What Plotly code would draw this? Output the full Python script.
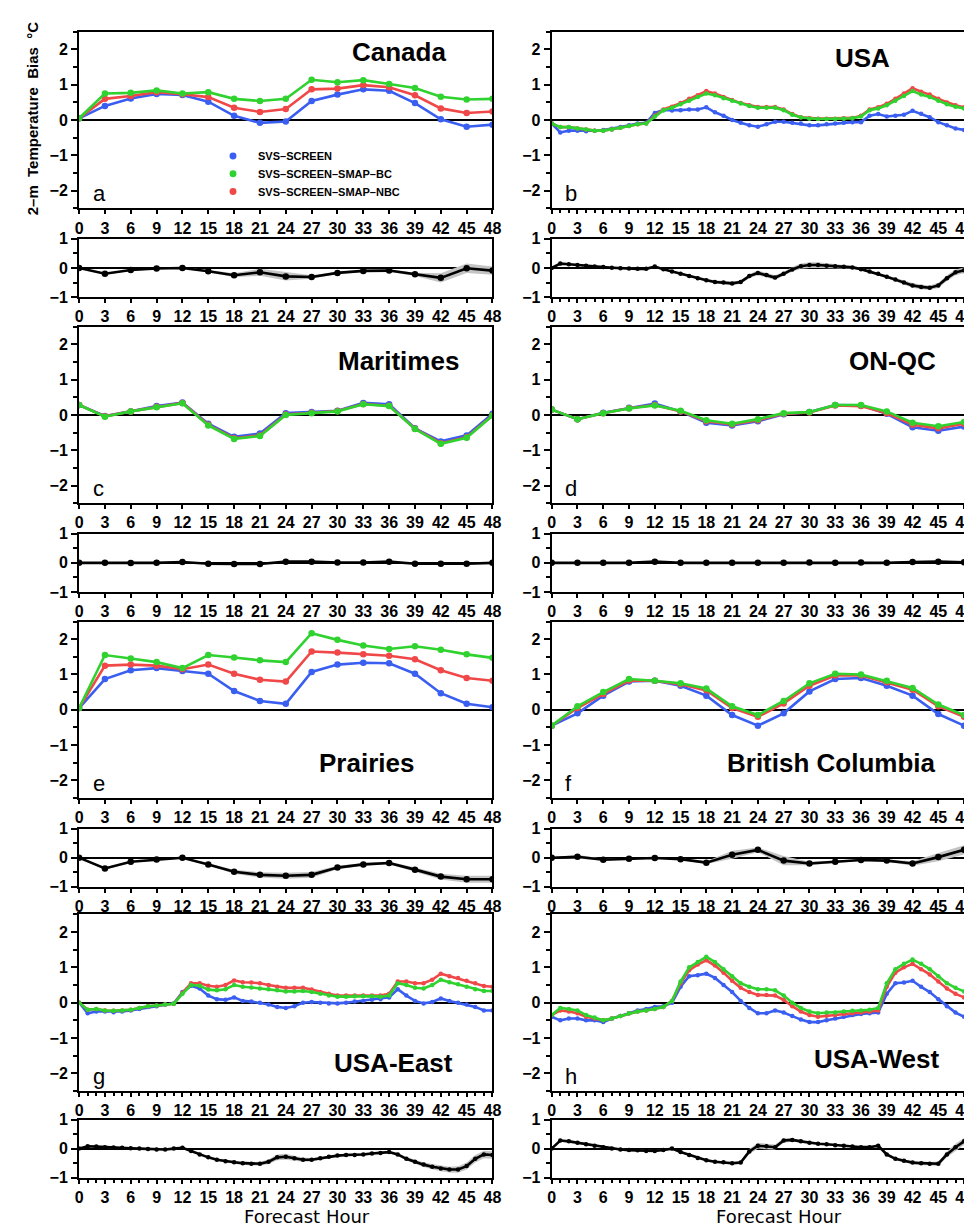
import plotly.graph_objects as go

# ---------------- data ----------------
HOURS_3 = [0, 3, 6, 9, 12, 15, 18, 21, 24, 27, 30, 33, 36, 39, 42, 45, 48]
HOURS_1 = list(range(0, 49))
X_TICKS = [0, 3, 6, 9, 12, 15, 18, 21, 24, 27, 30, 33, 36, 39, 42, 45, 48]
Y_TICKS_MAIN = [-2, -1, 0, 1, 2]
Y_TICKS_DIFF = [-1, 0, 1]
SERIES_NAMES = ["SVS–SCREEN", "SVS–SCREEN–SMAP–BC", "SVS–SCREEN–SMAP–NBC"]
REGIONS = ["Canada", "USA", "Maritimes", "ON-QC", "Prairies", "British Columbia", "USA-East", "USA-West"]
LETTERS = ["a", "b", "c", "d", "e", "f", "g", "h"]

canada_screen = [0.05, 0.40, 0.61, 0.74, 0.71, 0.52, 0.12, -0.08, -0.04, 0.54, 0.72, 0.87, 0.83, 0.48, 0.02, -0.19, -0.13]
canada_bc = [0.05, 0.75, 0.77, 0.84, 0.75, 0.79, 0.60, 0.54, 0.60, 1.14, 1.07, 1.13, 1.02, 0.91, 0.66, 0.58, 0.60]
canada_nbc = [0.05, 0.60, 0.68, 0.79, 0.73, 0.65, 0.35, 0.23, 0.31, 0.87, 0.89, 0.99, 0.93, 0.70, 0.33, 0.20, 0.24]
canada_diff = [0.0, -0.20, -0.07, -0.02, 0.0, -0.11, -0.25, -0.15, -0.29, -0.31, -0.17, -0.10, -0.09, -0.22, -0.34, -0.01, -0.09]
canada_ci = [0.01, 0.03, 0.03, 0.02, 0.02, 0.04, 0.07, 0.12, 0.14, 0.06, 0.04, 0.04, 0.04, 0.06, 0.16, 0.16, 0.14]

usa_screen = [-0.10, -0.35, -0.30, -0.30, -0.32, -0.30, -0.28, -0.25, -0.20, -0.15, -0.10, -0.08, 0.20, 0.28, 0.27, 0.28, 0.30, 0.30, 0.36, 0.22, 0.12, 0.00, -0.08, -0.15, -0.19, -0.12, -0.05, -0.05, -0.08, -0.10, -0.15, -0.15, -0.12, -0.10, -0.08, -0.06, -0.06, 0.12, 0.17, 0.10, 0.12, 0.15, 0.26, 0.18, 0.08, -0.06, -0.15, -0.24, -0.28]
usa_bc = [-0.10, -0.20, -0.20, -0.24, -0.27, -0.30, -0.30, -0.27, -0.22, -0.17, -0.12, -0.10, 0.10, 0.28, 0.35, 0.45, 0.55, 0.65, 0.75, 0.70, 0.62, 0.55, 0.47, 0.40, 0.35, 0.35, 0.35, 0.28, 0.15, 0.07, 0.04, 0.03, 0.03, 0.03, 0.04, 0.05, 0.10, 0.28, 0.33, 0.42, 0.55, 0.68, 0.82, 0.72, 0.65, 0.55, 0.45, 0.38, 0.33]
usa_nbc = [-0.10, -0.20, -0.20, -0.24, -0.27, -0.30, -0.30, -0.27, -0.22, -0.17, -0.12, -0.10, 0.12, 0.30, 0.38, 0.48, 0.60, 0.70, 0.82, 0.75, 0.65, 0.57, 0.48, 0.42, 0.37, 0.37, 0.37, 0.30, 0.17, 0.08, 0.05, 0.04, 0.04, 0.04, 0.05, 0.06, 0.12, 0.30, 0.36, 0.46, 0.60, 0.75, 0.90, 0.80, 0.72, 0.60, 0.50, 0.42, 0.36]
usa_diff = [0.00, 0.15, 0.13, 0.10, 0.08, 0.05, 0.03, 0.01, -0.01, -0.02, -0.03, -0.03, 0.05, -0.04, -0.12, -0.20, -0.28, -0.35, -0.42, -0.48, -0.50, -0.53, -0.48, -0.28, -0.17, -0.24, -0.33, -0.20, -0.05, 0.06, 0.10, 0.10, 0.08, 0.06, 0.04, 0.02, -0.04, -0.12, -0.20, -0.30, -0.40, -0.50, -0.60, -0.65, -0.68, -0.60, -0.35, -0.15, -0.08]
usa_ci = [0.02, 0.04, 0.04, 0.03, 0.03, 0.03, 0.03, 0.03, 0.03, 0.03, 0.03, 0.03, 0.03, 0.03, 0.03, 0.04, 0.04, 0.05, 0.06, 0.06, 0.06, 0.06, 0.06, 0.07, 0.08, 0.08, 0.08, 0.07, 0.08, 0.09, 0.10, 0.10, 0.09, 0.08, 0.06, 0.05, 0.04, 0.04, 0.05, 0.05, 0.06, 0.07, 0.08, 0.08, 0.08, 0.09, 0.10, 0.10, 0.10]

mar_screen = [0.28, -0.03, 0.10, 0.25, 0.35, -0.25, -0.62, -0.53, 0.05, 0.08, 0.12, 0.34, 0.30, -0.38, -0.75, -0.58, 0.03]
mar_bc = [0.28, -0.05, 0.10, 0.22, 0.33, -0.30, -0.68, -0.60, 0.00, 0.05, 0.10, 0.30, 0.25, -0.40, -0.82, -0.65, -0.02]
mar_nbc = [0.28, -0.04, 0.10, 0.23, 0.34, -0.28, -0.66, -0.58, 0.01, 0.06, 0.11, 0.31, 0.26, -0.39, -0.80, -0.63, -0.01]
mar_diff = [0.0, 0.0, -0.01, 0.0, 0.03, -0.03, -0.04, -0.04, 0.04, 0.04, 0.01, 0.01, 0.04, -0.03, -0.03, -0.03, 0.0]
mar_ci = [0.01, 0.02, 0.02, 0.02, 0.02, 0.02, 0.02, 0.02, 0.02, 0.02, 0.02, 0.02, 0.02, 0.02, 0.02, 0.02, 0.02]

onqc_screen = [0.15, -0.12, 0.06, 0.20, 0.32, 0.10, -0.22, -0.30, -0.18, 0.02, 0.08, 0.28, 0.27, 0.03, -0.35, -0.45, -0.33]
onqc_bc = [0.15, -0.12, 0.05, 0.18, 0.27, 0.12, -0.15, -0.25, -0.12, 0.05, 0.08, 0.28, 0.28, 0.10, -0.22, -0.32, -0.20]
onqc_nbc = [0.15, -0.12, 0.05, 0.19, 0.28, 0.10, -0.18, -0.27, -0.15, 0.03, 0.07, 0.27, 0.25, 0.05, -0.28, -0.38, -0.25]
onqc_diff = [0.0, 0.0, 0.0, 0.0, 0.04, 0.0, 0.0, 0.0, 0.0, 0.0, 0.01, 0.0, 0.01, 0.0, 0.03, 0.04, 0.02]
onqc_ci = [0.01, 0.02, 0.02, 0.02, 0.02, 0.02, 0.02, 0.02, 0.02, 0.02, 0.02, 0.02, 0.02, 0.02, 0.03, 0.03, 0.03]

pra_screen = [0.05, 0.87, 1.12, 1.18, 1.10, 1.02, 0.53, 0.25, 0.17, 1.07, 1.28, 1.33, 1.32, 1.02, 0.47, 0.17, 0.07]
pra_bc = [0.05, 1.55, 1.45, 1.35, 1.18, 1.55, 1.48, 1.40, 1.35, 2.17, 1.98, 1.82, 1.72, 1.80, 1.70, 1.57, 1.47]
pra_nbc = [0.05, 1.25, 1.28, 1.25, 1.15, 1.28, 1.02, 0.85, 0.80, 1.65, 1.62, 1.57, 1.53, 1.43, 1.12, 0.90, 0.82]
pra_diff = [0.0, -0.37, -0.14, -0.06, 0.0, -0.23, -0.48, -0.59, -0.62, -0.59, -0.34, -0.23, -0.18, -0.41, -0.65, -0.74, -0.74]
pra_ci = [0.01, 0.04, 0.03, 0.02, 0.01, 0.04, 0.07, 0.09, 0.10, 0.10, 0.06, 0.05, 0.05, 0.07, 0.10, 0.12, 0.12]

bc_screen = [-0.45, -0.10, 0.40, 0.80, 0.82, 0.68, 0.40, -0.15, -0.45, -0.10, 0.52, 0.87, 0.90, 0.68, 0.40, -0.12, -0.45]
bc_bc = [-0.45, 0.10, 0.50, 0.87, 0.82, 0.75, 0.60, 0.10, -0.15, 0.25, 0.75, 1.02, 1.00, 0.82, 0.62, 0.15, -0.15]
bc_nbc = [-0.45, 0.05, 0.45, 0.83, 0.82, 0.72, 0.55, 0.05, -0.20, 0.18, 0.68, 0.97, 0.97, 0.78, 0.57, 0.10, -0.20]
bc_diff = [0.0, 0.03, -0.07, -0.04, -0.01, -0.05, -0.17, 0.10, 0.27, -0.10, -0.20, -0.14, -0.08, -0.10, -0.20, 0.02, 0.27]
bc_ci = [0.01, 0.07, 0.03, 0.02, 0.01, 0.03, 0.05, 0.14, 0.08, 0.16, 0.06, 0.04, 0.03, 0.04, 0.08, 0.14, 0.16]

use_screen = [0.00, -0.30, -0.25, -0.25, -0.27, -0.25, -0.22, -0.18, -0.12, -0.10, -0.05, -0.02, 0.30, 0.48, 0.40, 0.20, 0.10, 0.08, 0.15, 0.05, 0.03, 0.00, -0.05, -0.12, -0.15, -0.10, 0.00, 0.02, 0.00, -0.02, -0.02, 0.00, 0.03, 0.05, 0.08, 0.10, 0.15, 0.38, 0.20, 0.05, -0.02, 0.02, 0.12, 0.05, 0.00, -0.05, -0.12, -0.22, -0.22]
use_bc = [0.00, -0.20, -0.18, -0.22, -0.23, -0.22, -0.20, -0.15, -0.10, -0.08, -0.05, -0.03, 0.25, 0.50, 0.48, 0.37, 0.35, 0.38, 0.50, 0.45, 0.43, 0.40, 0.38, 0.35, 0.32, 0.32, 0.33, 0.30, 0.25, 0.20, 0.17, 0.17, 0.18, 0.18, 0.18, 0.17, 0.20, 0.55, 0.50, 0.42, 0.40, 0.50, 0.65, 0.58, 0.52, 0.45, 0.38, 0.33, 0.33]
use_nbc = [0.00, -0.20, -0.18, -0.22, -0.23, -0.22, -0.20, -0.15, -0.10, -0.08, -0.05, -0.03, 0.28, 0.55, 0.55, 0.48, 0.45, 0.50, 0.63, 0.58, 0.57, 0.55, 0.50, 0.45, 0.42, 0.42, 0.42, 0.37, 0.30, 0.25, 0.20, 0.20, 0.20, 0.20, 0.20, 0.20, 0.25, 0.60, 0.60, 0.55, 0.55, 0.65, 0.82, 0.75, 0.70, 0.62, 0.55, 0.47, 0.45]
use_diff = [0.00, 0.08, 0.07, 0.05, 0.04, 0.03, 0.01, 0.00, -0.01, -0.03, -0.03, 0.00, 0.03, -0.08, -0.20, -0.30, -0.38, -0.43, -0.47, -0.50, -0.52, -0.52, -0.45, -0.30, -0.28, -0.33, -0.38, -0.38, -0.33, -0.28, -0.24, -0.22, -0.22, -0.20, -0.17, -0.15, -0.12, -0.20, -0.35, -0.45, -0.55, -0.62, -0.68, -0.72, -0.72, -0.60, -0.35, -0.20, -0.22]
use_ci = [0.02, 0.03, 0.03, 0.03, 0.03, 0.03, 0.03, 0.03, 0.03, 0.03, 0.03, 0.03, 0.03, 0.03, 0.03, 0.04, 0.04, 0.05, 0.05, 0.06, 0.06, 0.07, 0.08, 0.10, 0.10, 0.09, 0.07, 0.06, 0.05, 0.05, 0.05, 0.05, 0.05, 0.05, 0.05, 0.05, 0.05, 0.05, 0.06, 0.07, 0.08, 0.09, 0.10, 0.10, 0.11, 0.12, 0.13, 0.13, 0.13]

usw_screen = [-0.40, -0.50, -0.45, -0.45, -0.50, -0.50, -0.55, -0.45, -0.38, -0.30, -0.22, -0.18, -0.12, -0.10, 0.00, 0.45, 0.75, 0.78, 0.82, 0.70, 0.50, 0.30, 0.05, -0.15, -0.30, -0.30, -0.22, -0.28, -0.38, -0.48, -0.55, -0.55, -0.50, -0.45, -0.40, -0.35, -0.32, -0.30, -0.28, 0.25, 0.55, 0.57, 0.62, 0.45, 0.30, 0.10, -0.10, -0.28, -0.40]
usw_bc = [-0.35, -0.15, -0.18, -0.22, -0.35, -0.42, -0.50, -0.45, -0.38, -0.30, -0.25, -0.22, -0.18, -0.12, 0.05, 0.60, 1.00, 1.15, 1.30, 1.15, 0.95, 0.75, 0.55, 0.45, 0.38, 0.38, 0.35, 0.20, 0.00, -0.15, -0.25, -0.30, -0.28, -0.28, -0.25, -0.23, -0.22, -0.20, -0.15, 0.55, 0.95, 1.10, 1.22, 1.10, 0.95, 0.75, 0.55, 0.42, 0.32]
usw_nbc = [-0.35, -0.22, -0.25, -0.30, -0.40, -0.45, -0.50, -0.45, -0.38, -0.30, -0.25, -0.22, -0.18, -0.12, 0.05, 0.55, 0.92, 1.08, 1.20, 1.05, 0.85, 0.62, 0.42, 0.30, 0.22, 0.22, 0.20, 0.08, -0.10, -0.25, -0.35, -0.40, -0.37, -0.35, -0.32, -0.30, -0.28, -0.26, -0.22, 0.45, 0.85, 1.00, 1.10, 0.95, 0.80, 0.60, 0.40, 0.25, 0.15]
usw_diff = [0.00, 0.28, 0.25, 0.20, 0.15, 0.10, 0.05, 0.00, -0.03, -0.05, -0.06, -0.08, -0.08, -0.05, 0.00, -0.12, -0.22, -0.32, -0.40, -0.45, -0.47, -0.50, -0.48, -0.10, 0.10, 0.08, 0.05, 0.28, 0.30, 0.25, 0.20, 0.17, 0.15, 0.12, 0.10, 0.07, 0.05, 0.05, 0.10, -0.20, -0.35, -0.42, -0.48, -0.50, -0.52, -0.52, -0.20, 0.05, 0.25]
usw_ci = [0.02, 0.03, 0.03, 0.03, 0.03, 0.03, 0.03, 0.03, 0.03, 0.03, 0.03, 0.03, 0.03, 0.03, 0.03, 0.03, 0.03, 0.03, 0.04, 0.04, 0.04, 0.05, 0.06, 0.09, 0.10, 0.10, 0.09, 0.08, 0.06, 0.04, 0.03, 0.03, 0.03, 0.03, 0.03, 0.03, 0.03, 0.03, 0.04, 0.05, 0.05, 0.05, 0.05, 0.06, 0.06, 0.08, 0.10, 0.12, 0.12]

# ---------------- styling ----------------
W, H = 972, 1230
COLORS = ["#3a5ef0", "#2fd22f", "#f04848"]
DRAW_ORDER = [0, 2, 1]  # blue, red, green on top
BAND = "#c4c4c4"
TICKFONT = dict(family="Liberation Sans", size=16, color="black")

panels = [
    (HOURS_3, canada_screen, canada_bc, canada_nbc, canada_diff, canada_ci),
    (HOURS_1, usa_screen, usa_bc, usa_nbc, usa_diff, usa_ci),
    (HOURS_3, mar_screen, mar_bc, mar_nbc, mar_diff, mar_ci),
    (HOURS_3, onqc_screen, onqc_bc, onqc_nbc, onqc_diff, onqc_ci),
    (HOURS_3, pra_screen, pra_bc, pra_nbc, pra_diff, pra_ci),
    (HOURS_3, bc_screen, bc_bc, bc_nbc, bc_diff, bc_ci),
    (HOURS_1, use_screen, use_bc, use_nbc, use_diff, use_ci),
    (HOURS_1, usw_screen, usw_bc, usw_nbc, usw_diff, usw_ci),
]

COL_X = [(68, 487), (547, 965)]
ROW_Y = [(16, 195, 226, 285), (315, 494, 525, 584), (614, 793, 824, 883), (911, 1090, 1119, 1178)]
TITLE_POS = [(392, 37), (862, 43), (392, 350), (892, 350), (359, 757), (831, 757), (387, 1062), (877, 1058)]
LETTER_POS = [(80, 180), (558, 180), (80, 479), (558, 479), (80, 778), (558, 778), (80, 1075), (558, 1075)]


def px(x):
    return x / W


def py(y):
    return 1 - y / H


def bold_labels(vals):
    return ["<b>" + str(v).replace("-", "\u2212") + "</b>" for v in vals]


fig = go.Figure()
layout = dict(width=W, height=H, margin=dict(l=0, r=0, t=0, b=0),
              paper_bgcolor="white", plot_bgcolor="white", showlegend=False)
annotations = []
shapes = []

for k, (hrs, s_screen, s_bc, s_nbc, s_diff, s_ci) in enumerate(panels):
    col = k % 2
    row = k // 2
    x0, x1 = COL_X[col]
    mt, mb, dt, db = ROW_Y[row]
    am = 2 * k + 1
    ad = 2 * k + 2
    hourly = len(hrs) == 49
    msize = 4.5 if hourly else 6.5
    lw = 2.6

    def axname(i, c):
        return c if i == 1 else f"{c}{i}"

    for ax_i, (top, bot, yr, yt) in ((am, (mt, mb, [-2.5, 2.5], Y_TICKS_MAIN)), (ad, (dt, db, [-1, 1], Y_TICKS_DIFF))):
        xa = dict(domain=[px(x0), px(x1)], range=[0, 48], tickvals=X_TICKS, ticktext=bold_labels(X_TICKS),
                  ticks="outside", ticklen=4, tickwidth=2, tickcolor="black",
                  showline=True, mirror=True, linewidth=2.2, linecolor="black",
                  showgrid=False, zeroline=False, tickfont=TICKFONT,
                  anchor=axname(ax_i, "y"), fixedrange=True)
        if hourly:
            xa["minor"] = dict(dtick=1, tick0=0, ticks="outside", ticklen=3, tickwidth=1.5, tickcolor="black")
        ya = dict(domain=[py(bot), py(top)], range=yr, tickvals=yt, ticktext=bold_labels(yt),
                  ticks="outside", ticklen=6, tickwidth=2, tickcolor="black",
                  minor=dict(dtick=0.5, tick0=0, ticks="outside", ticklen=4, tickwidth=1.5, tickcolor="black"),
                  showline=True, mirror=True, linewidth=2.2, linecolor="black",
                  showgrid=False, zeroline=True, zerolinecolor="black", zerolinewidth=2.2,
                  tickfont=TICKFONT, anchor=axname(ax_i, "x"), fixedrange=True)
        layout[axname(ax_i, "xaxis")] = xa
        layout[axname(ax_i, "yaxis")] = ya

    series = [s_screen, s_bc, s_nbc]
    for j in DRAW_ORDER:
        fig.add_trace(go.Scatter(x=hrs, y=series[j], mode="lines+markers", name=SERIES_NAMES[j],
                                 line=dict(color=COLORS[j], width=lw),
                                 marker=dict(color=COLORS[j], size=msize),
                                 xaxis=axname(am, "x"), yaxis=axname(am, "y"), cliponaxis=True))

    upper = [d + c for d, c in zip(s_diff, s_ci)]
    lower = [d - c for d, c in zip(s_diff, s_ci)]
    fig.add_trace(go.Scatter(x=hrs, y=upper, mode="lines", line=dict(width=0, color=BAND),
                             xaxis=axname(ad, "x"), yaxis=axname(ad, "y"), hoverinfo="skip"))
    fig.add_trace(go.Scatter(x=hrs, y=lower, mode="lines", line=dict(width=0, color=BAND),
                             fill="tonexty", fillcolor=BAND,
                             xaxis=axname(ad, "x"), yaxis=axname(ad, "y"), hoverinfo="skip"))
    fig.add_trace(go.Scatter(x=hrs, y=s_diff, mode="lines+markers", name="difference",
                             line=dict(color="black", width=lw), marker=dict(color="black", size=msize),
                             xaxis=axname(ad, "x"), yaxis=axname(ad, "y")))

    tx, ty = TITLE_POS[k]
    annotations.append(dict(x=px(tx), y=py(ty), xref="paper", yref="paper", text="<b>" + REGIONS[k] + "</b>",
                            showarrow=False, xanchor="center", yanchor="middle",
                            font=dict(family="Liberation Sans", size=26, color="black")))
    lx, ly = LETTER_POS[k]
    annotations.append(dict(x=px(lx), y=py(ly), xref="paper", yref="paper", text=LETTERS[k],
                            showarrow=False, xanchor="left", yanchor="middle",
                            font=dict(family="Liberation Sans", size=22, color="black")))

# legend (panel a)
LEG_Y = [142, 160, 178]
for j in range(3):
    cx, cy = 224, LEG_Y[j]
    shapes.append(dict(type="circle", xref="paper", yref="paper",
                       x0=px(cx - 3.5), x1=px(cx + 3.5), y0=py(cy + 3.5), y1=py(cy - 3.5),
                       fillcolor=COLORS[j], line=dict(width=0)))
    annotations.append(dict(x=px(247), y=py(cy), xref="paper", yref="paper", text="<b>" + SERIES_NAMES[j] + "</b>",
                            showarrow=False, xanchor="left", yanchor="middle",
                            font=dict(family="Liberation Sans", size=11, color="black")))

# axis titles
annotations.append(dict(x=px(21), y=py(104), xref="paper", yref="paper", text="<b>2–m  Temperature  Bias  °C</b>",
                        showarrow=False, textangle=-90, xanchor="center", yanchor="middle",
                        font=dict(family="Liberation Sans", size=15, color="black")))
for cxp in (299, 777):
    annotations.append(dict(x=px(cxp), y=py(1229), xref="paper", yref="paper", text="Forecast Hour",
                            showarrow=False, xanchor="center", yanchor="bottom", borderpad=0,
                            font=dict(family="DejaVu Sans", size=18, color="black")))

layout["annotations"] = annotations
layout["shapes"] = shapes
fig.update_layout(**layout)
fig.write_html("out.html")
